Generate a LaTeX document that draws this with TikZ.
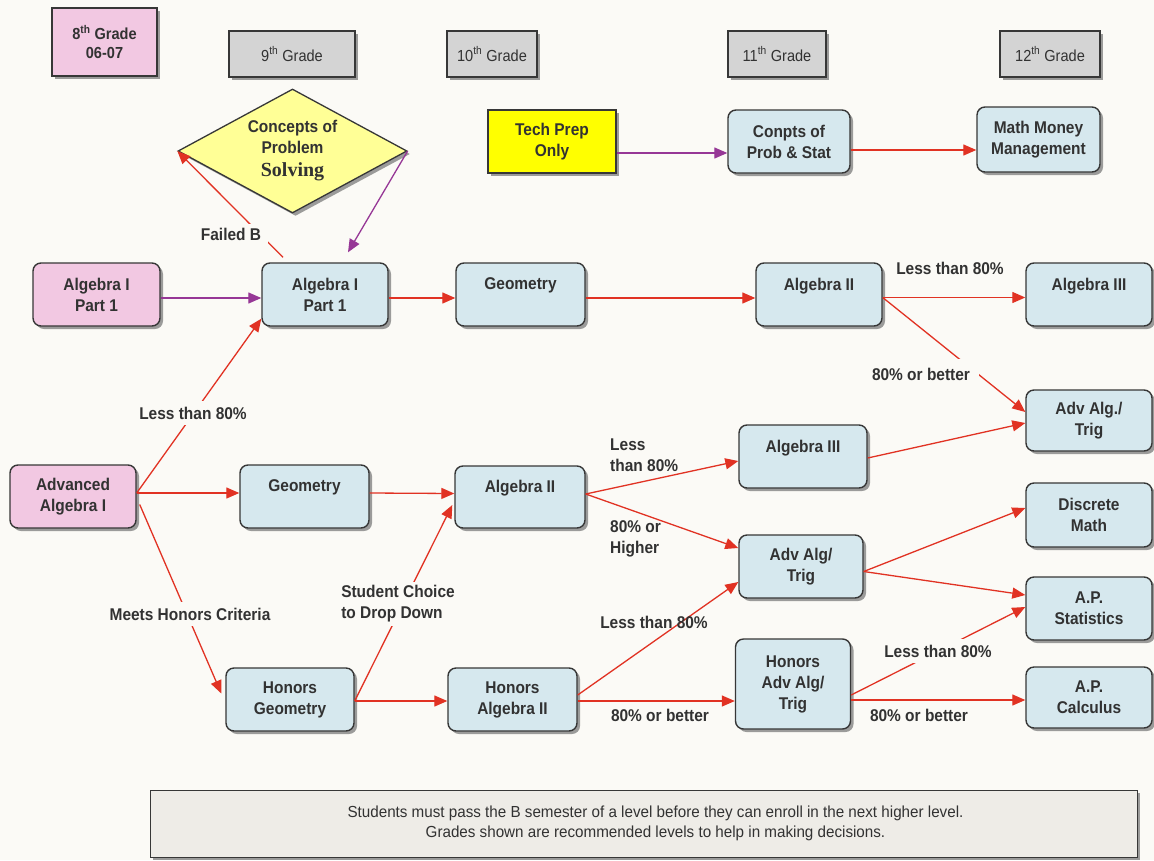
\documentclass[tikz,border=0pt]{standalone}
\usepackage{fontspec}
\setmainfont{Liberation Sans}[FakeStretch=0.91]
\newfontfamily\notefont{Liberation Sans}[FakeStretch=0.95]
\newfontfamily\solvfont{Liberation Serif}
\usetikzlibrary{shapes.geometric,arrows.meta,shadows}
\definecolor{bg}{RGB}{251,250,246}
\definecolor{edge}{RGB}{55,55,55}
\definecolor{txt}{RGB}{50,50,50}
\definecolor{blue1}{RGB}{214,232,238}
\definecolor{pink1}{RGB}{242,200,226}
\definecolor{gray1}{RGB}{212,212,212}
\definecolor{yel1}{RGB}{255,255,150}
\definecolor{yel2}{RGB}{255,255,0}
\definecolor{note1}{RGB}{238,236,231}
\definecolor{redc}{RGB}{225,50,35}
\definecolor{purc}{RGB}{150,55,150}
\tikzset{
  shad/.style={drop shadow={shadow xshift=3pt,shadow yshift=-3pt,fill=black!55,opacity=.7}},
  box/.style={draw=edge,line width=1.4pt,rounded corners=8pt,fill=blue1,align=center,
    font=\bfseries\fontsize{17}{21}\selectfont,text=txt,inner sep=0pt,shad},
  pbox/.style={box,fill=pink1},
  grade/.style={draw=edge,line width=1.4pt,fill=gray1,align=center,
    font=\fontsize{16}{19}\selectfont,text=txt,inner sep=0pt,shad,minimum height=46pt},
  arr/.style={draw=redc,line width=1.3pt,-{Triangle[length=13pt,width=11pt]}},
  parr/.style={arr,draw=purc},
  lab/.style={font=\bfseries\fontsize{17}{21}\selectfont,text=txt,align=center,inner sep=1pt},
  glab/.style={lab,fill=bg,inner sep=4pt},
}
\begin{document}
\begin{tikzpicture}[x=1pt,y=-1pt]
\useasboundingbox (0,0) rectangle (1154,860);
\fill[bg] (0,0) rectangle (1154,860);

% grade headers
\node[grade,font=\bfseries\fontsize{16}{19}\selectfont,fill=pink1,minimum width=105pt,minimum height=68pt] (g8) at (104.5,42) {8\textsuperscript{th} Grade\\06-07};
\node[grade,minimum width=126pt] (g9) at (292,54) {9\textsuperscript{th} Grade};
\node[grade,minimum width=90pt] (g10) at (492,54) {10\textsuperscript{th} Grade};
\node[grade,minimum width=98pt] (g11) at (777,54) {11\textsuperscript{th} Grade};
\node[grade,minimum width=100pt] (g12) at (1050,54) {12\textsuperscript{th} Grade};

% top row
\node[diamond,draw=edge,line width=1.3pt,fill=yel1,shad,minimum width=229pt,minimum height=124pt,aspect=1.85,inner sep=0pt,align=center,text=txt,font=\bfseries\fontsize{17}{21}\selectfont] (cps) at (292.5,151) {Concepts of\\Problem\\[2pt]{\solvfont\bfseries\fontsize{20}{22}\selectfont Solving}};
\node[box,rounded corners=0pt,fill=yel2,minimum width=128pt,minimum height=63pt] (tech) at (552,141.5) {Tech Prep\\Only};
\node[box,minimum width=122pt,minimum height=63pt] (conpts) at (789,141.5) {Conpts of\\Prob \& Stat};
\node[box,minimum width=123pt,minimum height=65pt] (mmm) at (1038.5,139.5) {Math Money\\Management};

% row 1
\node[pbox,minimum width=127pt,minimum height=63pt] (a1p) at (96.5,294.5) {Algebra I\\Part 1};
\node[box,minimum width=126pt,minimum height=63pt] (a1b) at (325,294.5) {Algebra I\\Part 1};
\node[box,minimum width=129pt,minimum height=63pt] (geo10) at (520.5,294.5) {Geometry\\\mbox{}};
\node[box,minimum width=126pt,minimum height=63pt] (alg2a) at (819,294.5) {Algebra II\\\mbox{}};
\node[box,minimum width=126pt,minimum height=63pt] (alg3a) at (1089,294.5) {Algebra III\\\mbox{}};

% middle
\node[box,minimum width=126pt,minimum height=61pt] (adv12) at (1089,420.5) {Adv Alg./\\Trig};
\node[box,minimum width=128pt,minimum height=63pt] (alg3b) at (803,456.5) {Algebra III\\\mbox{}};
\node[pbox,minimum width=126pt,minimum height=63pt] (aa1) at (73,496.5) {Advanced\\Algebra I};
\node[box,minimum width=129pt,minimum height=63pt] (geo9) at (304.5,496.5) {Geometry\\\mbox{}};
\node[box,minimum width=130pt,minimum height=62pt] (alg2b) at (520,497) {Algebra II\\\mbox{}};
\node[box,minimum width=126pt,minimum height=64pt] (disc) at (1089,515) {Discrete\\Math};
\node[box,minimum width=124pt,minimum height=63pt] (adv11) at (801,566.5) {Adv Alg/\\Trig};
\node[box,minimum width=126pt,minimum height=63pt] (aps) at (1089,608.5) {A.P.\\Statistics};

% bottom row
\node[box,minimum width=128pt,minimum height=63pt] (hgeo) at (290,699.5) {Honors\\Geometry};
\node[box,minimum width=129pt,minimum height=63pt] (halg2) at (512.5,699.5) {Honors\\Algebra II};
\node[box,minimum width=115pt,minimum height=90pt] (hadv) at (793,684) {Honors\\Adv Alg/\\Trig};
\node[box,minimum width=126pt,minimum height=61pt] (apc) at (1089,697.5) {A.P.\\Calculus};

% note
\node[draw=edge,line width=1pt,fill=note1,shad,minimum width=987pt,minimum height=67pt,align=center,text=txt,font=\notefont\fontsize{16}{20}\selectfont] (note) at (643.5,823.5) {\hspace*{24pt}Students must pass the B semester of a level before they can enroll in the next higher level.\\\hspace*{24pt}Grades shown are recommended levels to help in making decisions.};

% connectors
\draw[arr] ([xshift=-42pt,yshift=5pt]a1b.north) -- (cps.west);
\node[glab,inner xsep=7pt] (lfail) at (231,234) {Failed B};
\draw[parr] (cps.east) -- ([xshift=23pt,yshift=10pt]a1b.north);
\draw[parr] ([yshift=-3.5pt]a1p.east) -- ([yshift=-3.5pt]a1b.west);
\draw[arr] ([yshift=-3.5pt]a1b.east) -- ([yshift=-3.5pt]geo10.west);
\draw[arr] ([yshift=-3.5pt]geo10.east) -- ([yshift=-3.5pt]alg2a.west);
\draw[arr] ([yshift=-3pt]alg2a.east) -- ([yshift=-3pt]alg3a.west);
\node[lab] (l1) at (950,268) {Less than 80\%};
\draw[arr] ([yshift=-3pt]alg2a.east) -- ([yshift=8.5pt]adv12.west);
\node[glab,inner sep=9pt] (l2) at (921,374) {80\% or better};

\draw[arr] ([yshift=3.5pt]aa1.east) -- ([yshift=8pt]a1b.south west);
\node[glab,inner sep=6pt] (l3) at (193,413) {Less than 80\%};
\draw[arr] ([yshift=3.5pt]aa1.east) -- ([yshift=3.5pt]geo9.west);
\draw[arr] ([xshift=3pt,yshift=-8pt]aa1.east) -- ([xshift=-4pt,yshift=6pt]hgeo.west);
\node[glab,inner sep=6pt] (l4) at (190,614) {Meets Honors Criteria};
\draw[arr] ([yshift=3.5pt]geo9.east) -- ([yshift=3.5pt]alg2b.west);
\draw[arr] ([yshift=-1.5pt]hgeo.east) -- ([xshift=-2pt,yshift=-8pt]alg2b.west);
\node[glab,align=left] (l5) at (398,604) {Student Choice\\to Drop Down};
\draw[arr] ([yshift=-1.5pt]hgeo.east) -- ([yshift=-1.5pt]halg2.west);

\draw[arr] ([yshift=3pt]alg2b.east) -- ([yshift=-4.5pt]alg3b.west);
\node[lab,align=left,anchor=west] (l6) at (609,455) {Less\\than 80\%};
\draw[arr] ([yshift=3pt]alg2b.east) -- ([yshift=18.5pt]adv11.west);
\node[lab,align=left,anchor=west] (l7) at (609,539) {80\% or\\Higher};
\draw[arr] ([yshift=-1.5pt]alg3b.east) -- ([yshift=-2.5pt]adv12.west);

\draw[arr] ([yshift=4.5pt]halg2.east) -- ([yshift=-15.5pt]adv11.west);
\node[lab] (l8) at (654,622) {Less than 80\%};
\draw[arr] ([yshift=-1.5pt]halg2.east) -- ([yshift=-17pt]hadv.west);
\node[lab] (l9) at (660,715) {80\% or better};

\draw[arr] ([yshift=-5pt]adv11.east) -- ([yshift=7pt]disc.west);
\draw[arr] ([yshift=-5pt]adv11.east) -- ([yshift=13.5pt]aps.west);
\draw[arr] ([yshift=-11pt]hadv.east) -- ([yshift=1.5pt]aps.west);
\node[glab,inner sep=6pt] (l10) at (938,651) {Less than 80\%};
\draw[arr] ([yshift=-16pt]hadv.east) -- ([yshift=-2.5pt]apc.west);
\node[lab] (l11) at (919,715) {80\% or better};

\draw[parr] ([yshift=-11.5pt]tech.east) -- ([yshift=-11.5pt]conpts.west);
\draw[arr] ([yshift=-8.5pt]conpts.east) -- ([yshift=-10.5pt]mmm.west);
\end{tikzpicture}
\end{document}
